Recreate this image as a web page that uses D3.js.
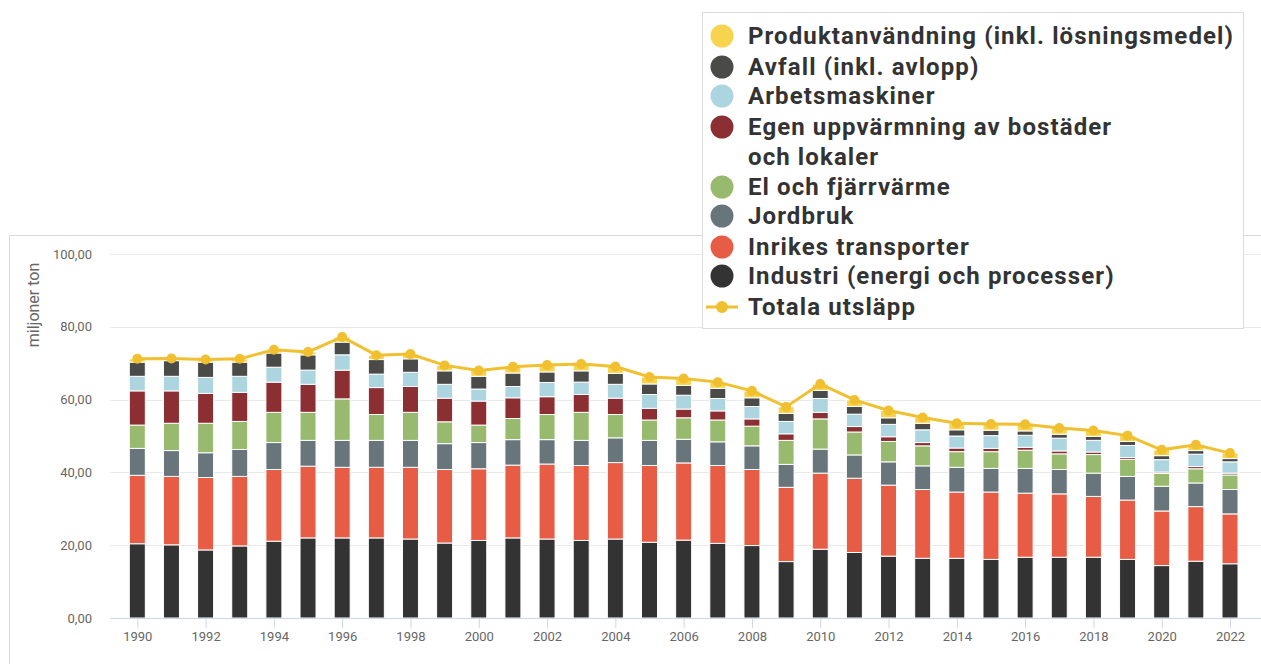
<!DOCTYPE html>
<html>
<head>
<meta charset="utf-8">
<script src="https://cdn.jsdelivr.net/npm/d3@7"></script>
<style>
  body { margin: 0; background: #fff; }
  svg { display: block; font-family: Roboto, "Open Sans", sans-serif; }
</style>
</head>
<body>
<div id="chart"></div>
<script>
// years on the x axis
var years = d3.range(1990, 2023);

// series values, miljoner ton, bottom to top
var industri   = [20.4,20.1,18.7,19.8,21.1, 22.0,22.0,22.0,21.7,20.6, 21.3,22.0,21.7,21.3,21.7, 20.8,21.4,20.5,19.9,15.5, 18.9,18.0,17.0,16.4,16.4, 16.1,16.7,16.7,16.7,16.1, 14.4,15.6,14.9];
var transport  = [18.8,18.8,19.9,19.1,19.7, 19.7,19.4,19.4,19.7,20.2, 19.7,20.0,20.6,20.6,21.0, 21.1,21.2,21.4,20.9,20.4, 20.9,20.4,19.5,18.9,18.2, 18.5,17.6,17.4,16.7,16.3, 15.0,15.0,13.7];
var jordbruk   = [7.4,7.1,6.8,7.4,7.4, 7.1,7.4,7.4,7.4,7.1, 7.2,7.0,6.7,6.9,6.8, 6.9,6.5,6.5,6.5,6.3, 6.6,6.4,6.4,6.5,6.8, 6.5,6.8,6.7,6.4,6.5, 6.8,6.5,6.7];
var elFjarr    = [6.4,7.5,8.1,7.7,8.3, 7.7,11.4,7.1,7.7,6.0, 4.8,5.8,6.9,7.7,6.4, 5.6,5.9,6.0,5.4,6.6, 8.3,6.3,5.6,5.5,4.3, 4.6,5.0,4.3,5.1,4.7, 3.5,3.9,4.0];
var egenUppv   = [9.4,8.9,8.2,8.0,8.3, 7.7,7.9,7.4,7.1,6.5, 6.6,5.7,4.9,4.9,4.5, 3.2,2.4,2.5,2.0,1.8, 1.8,1.5,1.3,0.9,1.0, 0.9,0.8,0.8,0.7,0.5, 0.4,0.6,0.5];
var arbets     = [4.0,4.0,4.4,4.4,4.1, 3.9,4.2,3.7,3.9,3.8, 3.3,3.1,3.9,3.4,3.8, 3.8,3.8,3.4,3.4,3.4, 3.8,3.4,3.4,3.5,3.3, 3.5,3.3,3.5,3.2,3.3, 3.4,3.4,3.1];
var avfall     = [3.9,4.3,4.2,3.9,3.9, 4.2,3.5,4.0,3.7,3.7, 3.5,3.7,2.9,3.1,3.0, 2.9,2.7,2.8,2.4,2.2, 2.2,2.1,1.8,1.8,1.7, 1.5,1.2,1.1,1.1,1.1, 1.1,1.0,0.9];
var produkt    = [0.9,0.6,0.7,0.9,0.9, 0.8,1.4,1.2,1.3,1.5, 1.6,1.7,1.9,1.9,1.9, 1.9,1.9,1.7,1.9,1.8, 1.8,1.8,2.0,1.6,1.8, 1.7,1.8,1.7,1.6,1.6, 1.6,1.5,1.5];
var totala     = [71.2,71.3,71.0,71.2,73.7, 73.1,77.2,72.2,72.5,69.4, 68.0,69.0,69.5,69.8,69.1, 66.2,65.8,64.8,62.4,58.0, 64.3,59.9,57.0,55.1,53.5, 53.3,53.2,52.2,51.5,50.1, 46.2,47.6,45.3];

// y axis ticks
var yTicks = [0, 20, 40, 60, 80, 100];

// stack order (bottom first) with colours
var series = [
  { name: "Industri (energi och processer)", values: industri,  color: "#333333" },
  { name: "Inrikes transporter",             values: transport, color: "#e65c45" },
  { name: "Jordbruk",                        values: jordbruk,  color: "#68767c" },
  { name: "El och fjärrvärme",               values: elFjarr,   color: "#97ba6e" },
  { name: "Egen uppvärmning av bostäder och lokaler", values: egenUppv, color: "#8b2f33" },
  { name: "Arbetsmaskiner",                  values: arbets,    color: "#acd5e0" },
  { name: "Avfall (inkl. avlopp)",           values: avfall,    color: "#4a4a48" },
  { name: "Produktanvändning (inkl. lösningsmedel)", values: produkt, color: "#f7d44f" }
];

var lineColor = "#f0c030";

var W = 1261, H = 664;

var svg = d3.select("#chart").append("svg")
    .attr("width", W)
    .attr("height", H);

svg.append("rect").attr("width", W).attr("height", H).attr("fill", "#fff");

// chart frame (top + left border)
svg.append("path")
    .attr("d", "M9.5," + H + "V235.5H" + W)
    .attr("fill", "none")
    .attr("stroke", "#d9d9d9");

var x = d3.scalePoint()
    .domain(years)
    .range([137.3, 1230]);

var y = d3.scaleLinear()
    .domain([0, 100])
    .range([618, 254]);

var barW = 16;

// gridlines
svg.append("g")
  .selectAll("line")
  .data(yTicks.filter(function(d) { return d > 0; }))
  .enter()
  .append("line")
    .attr("x1", 110).attr("x2", W)
    .attr("y1", function(d) { return Math.round(y(d)) + 0.5; })
    .attr("y2", function(d) { return Math.round(y(d)) + 0.5; })
    .attr("stroke", "#e9e9e9");

// y axis labels
var yAxis = d3.axisLeft(y)
    .tickValues(yTicks)
    .tickSize(0)
    .tickPadding(0)
    .tickFormat(function(d) { return d3.format(".2f")(d).replace(".", ","); });

var gy = svg.append("g")
    .attr("transform", "translate(92,0)")
    .call(yAxis);
gy.select(".domain").remove();
gy.selectAll("text")
    .attr("fill", "#666")
    .style("font-size", "13px")
    .style("font-family", "Roboto, sans-serif");

// axis title
svg.append("text")
    .attr("transform", "translate(39,305) rotate(-90)")
    .attr("text-anchor", "middle")
    .attr("fill", "#666")
    .style("font-size", "16px")
    .text("miljoner ton");

// stacked bars
var table = years.map(function(yr, i) {
  var row = { year: yr };
  series.forEach(function(s, k) { row["s" + k] = s.values[i]; });
  return row;
});

var stack = d3.stack()
    .keys(series.map(function(s, k) { return "s" + k; }));

var layers = stack(table);

svg.append("g")
  .selectAll("g")
  .data(layers)
  .enter()
  .append("g")
    .attr("fill", function(d, k) { return series[k].color; })
  .selectAll("rect")
  .data(function(d) { return d; })
  .enter()
  .append("rect")
    .attr("x", function(d) { return x(d.data.year) - barW / 2; })
    .attr("y", function(d) { return y(d[1]); })
    .attr("width", barW)
    .attr("height", function(d) { return Math.max(0, y(d[0]) - y(d[1])); })
    .attr("stroke", "#fff")
    .attr("stroke-width", 1);

// x axis
var xAxis = d3.axisBottom(x)
    .tickValues(years.filter(function(d) { return d % 2 === 0; }))
    .tickSize(10)
    .tickPadding(4);

var gx = svg.append("g")
    .attr("transform", "translate(0,618)")
    .call(xAxis);
gx.select(".domain")
    .attr("d", "M110,0.5H" + W)
    .attr("stroke", "#ccd6eb");
gx.selectAll(".tick line").attr("stroke", "#ccd6eb");
gx.selectAll("text")
    .attr("fill", "#666")
    .style("font-size", "13px")
    .style("font-family", "Roboto, sans-serif");

// total line + markers
var line = d3.line()
    .x(function(d, i) { return x(years[i]); })
    .y(function(d) { return y(d); });

svg.append("path")
    .datum(totala)
    .attr("d", line)
    .attr("fill", "none")
    .attr("stroke", lineColor)
    .attr("stroke-width", 3);

svg.append("g")
  .selectAll("circle")
  .data(totala)
  .enter()
  .append("circle")
    .attr("cx", function(d, i) { return x(years[i]); })
    .attr("cy", function(d) { return y(d); })
    .attr("r", 5)
    .attr("fill", lineColor);

// legend (drawn on top of the frame)
var legend = svg.append("g");

legend.append("rect")
    .attr("x", 702.5).attr("y", 12.5)
    .attr("width", 541).attr("height", 316)
    .attr("fill", "#fff")
    .attr("stroke", "#dcdcdc");

var legendItems = [
  { lines: ["Produktanvändning (inkl. lösningsmedel)"], color: series[7].color, y: 36 },
  { lines: ["Avfall (inkl. avlopp)"],                   color: series[6].color, y: 67 },
  { lines: ["Arbetsmaskiner"],                          color: series[5].color, y: 96 },
  { lines: ["Egen uppvärmning av bostäder", "och lokaler"], color: series[4].color, y: 127 },
  { lines: ["El och fjärrvärme"],                       color: series[3].color, y: 187 },
  { lines: ["Jordbruk"],                                color: series[2].color, y: 216 },
  { lines: ["Inrikes transporter"],                     color: series[1].color, y: 247 },
  { lines: ["Industri (energi och processer)"],         color: series[0].color, y: 276 },
  { lines: ["Totala utsläpp"],                          color: lineColor, y: 307, isLine: true }
];

legendItems.forEach(function(item) {
  if (item.isLine) {
    legend.append("line")
        .attr("x1", 706).attr("x2", 738)
        .attr("y1", item.y).attr("y2", item.y)
        .attr("stroke", item.color)
        .attr("stroke-width", 3);
    legend.append("circle")
        .attr("cx", 722).attr("cy", item.y).attr("r", 6)
        .attr("fill", item.color);
  } else {
    legend.append("circle")
        .attr("cx", 722).attr("cy", item.y).attr("r", 11.5)
        .attr("fill", item.color);
  }
  item.lines.forEach(function(t, j) {
    legend.append("text")
        .attr("x", 748)
        .attr("y", item.y + j * 30)
        .attr("dy", "0.35em")
        .attr("fill", "#333")
        .style("font-size", "24px")
        .style("font-weight", "bold")
        .style("letter-spacing", "1.1px")
        .text(t);
  });
});
</script>
</body>
</html>
